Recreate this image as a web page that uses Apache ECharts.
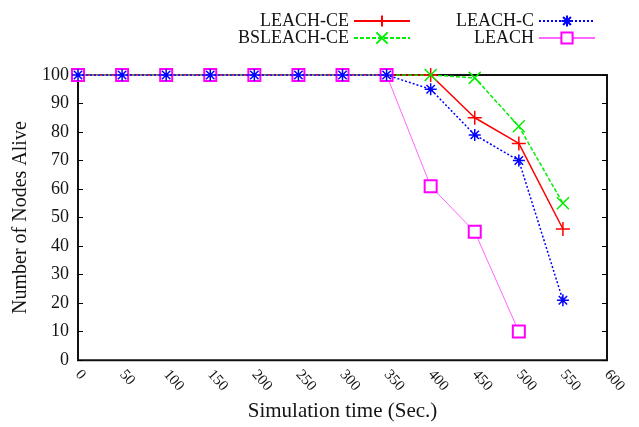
<!DOCTYPE html>
<html>
<head>
<meta charset="utf-8">
<script src="https://cdn.jsdelivr.net/npm/echarts@6/dist/echarts.min.js"></script>
<style>html,body{margin:0;padding:0;background:#fff;}#c{width:639px;height:427px;}</style>
</head>
<body>
<div id="c"></div>
<script>
var xValues = [0, 50, 100, 150, 200, 250, 300, 350, 400, 450, 500, 550];
var leachCE = [100, 100, 100, 100, 100, 100, 100, 100, 100, 85, 76, 46];
var bsleachCE = [100, 100, 100, 100, 100, 100, 100, 100, 100, 99, 82, 55];
var leachC = [100, 100, 100, 100, 100, 100, 100, 100, 95, 79, 70, 21];
var leach = [100, 100, 100, 100, 100, 100, 100, 100, 61, 45, 10];
var seriesNames = ['LEACH-CE', 'BSLEACH-CE', 'LEACH-C', 'LEACH'];

function pairs(vals) { return vals.map(function (v, i) { return [xValues[i], v]; }); }

var font = 'Liberation Serif';
var txt = '#141414';
var SYM_PLUS = 'path://M0,5L10,5M5,0L5,10';
var SYM_X = 'path://M0,0L10,10M0,10L10,0';
var SYM_AST = 'path://M0,5L10,5M5,0L5,10M1.5,1.5L8.5,8.5M1.5,8.5L8.5,1.5';

function legend(name, right, top) {
  return {
    data: [name], right: right, top: top, padding: 0, align: 'right',
    itemWidth: 56, itemHeight: 14, selectedMode: false,
    textStyle: { fontFamily: font, fontSize: 18, color: txt }
  };
}

var chart = echarts.init(document.getElementById('c'), null, { renderer: 'canvas' });
chart.setOption({
  animation: false,
  backgroundColor: '#fff',
  legend: [
    legend(seriesNames[0], 228, 12),
    legend(seriesNames[1], 228, 29),
    legend(seriesNames[2], 43, 12),
    legend(seriesNames[3], 43, 29)
  ],
  grid: { left: 78, right: 32, top: 75, bottom: 65, show: true, borderColor: '#111', borderWidth: 2, backgroundColor: 'transparent' },
  xAxis: {
    type: 'value', min: 0, max: 600, interval: 50,
    name: 'Simulation time (Sec.)', nameLocation: 'middle', nameGap: 40,
    nameTextStyle: { fontFamily: font, fontSize: 21, color: txt },
    axisLine: { show: false }, axisTick: { show: false }, splitLine: { show: false },
    axisLabel: { rotate: -48, fontFamily: font, fontSize: 15, color: txt, margin: 12 }
  },
  yAxis: [{
    type: 'value', min: 0, max: 100, interval: 10, position: 'left',
    name: 'Number of Nodes Alive', nameLocation: 'middle', nameGap: 44,
    nameTextStyle: { fontFamily: font, fontSize: 20, color: txt },
    axisLine: { show: false }, splitLine: { show: false },
    axisTick: { show: true, inside: true, length: 5, lineStyle: { color: '#000', width: 1 } },
    axisLabel: { fontFamily: font, fontSize: 18, color: txt, margin: 9 }
  }, {
    type: 'value', min: 0, max: 100, interval: 10, position: 'right',
    axisLine: { show: false }, splitLine: { show: false },
    axisTick: { show: true, inside: true, length: 5, lineStyle: { color: '#000', width: 1 } },
    axisLabel: { show: false }
  }],
  series: [
    {
      name: seriesNames[0], type: 'line', data: pairs(leachCE), z: 2,
      symbol: SYM_PLUS, symbolSize: 14,
      itemStyle: { color: '#ff0000', borderColor: '#ff0000', borderWidth: 1.5 },
      lineStyle: { color: '#ff0000', width: 1.5, type: 'solid' }
    },
    {
      name: seriesNames[1], type: 'line', data: pairs(bsleachCE), z: 2,
      symbol: SYM_X, symbolSize: 12,
      itemStyle: { color: '#00ee00', borderColor: '#00ee00', borderWidth: 1.5 },
      lineStyle: { color: '#00ee00', width: 1.5, type: [4, 2] }
    },
    {
      name: seriesNames[3], type: 'line', data: pairs(leach), z: 3,
      symbol: 'emptyRect', symbolSize: 12,
      itemStyle: { color: '#ff00ff', borderColor: '#ff00ff', borderWidth: 1.5 },
      lineStyle: { color: '#ff66ff', width: 1, type: 'solid' }
    },
    {
      name: seriesNames[2], type: 'line', data: pairs(leachC), z: 4,
      symbol: SYM_AST, symbolSize: 12,
      itemStyle: { color: '#0000ff', borderColor: '#0000ff', borderWidth: 1.5 },
      lineStyle: { color: '#0000ff', width: 1.5, type: [2, 2] }
    }
  ]
});
</script>
</body>
</html>
